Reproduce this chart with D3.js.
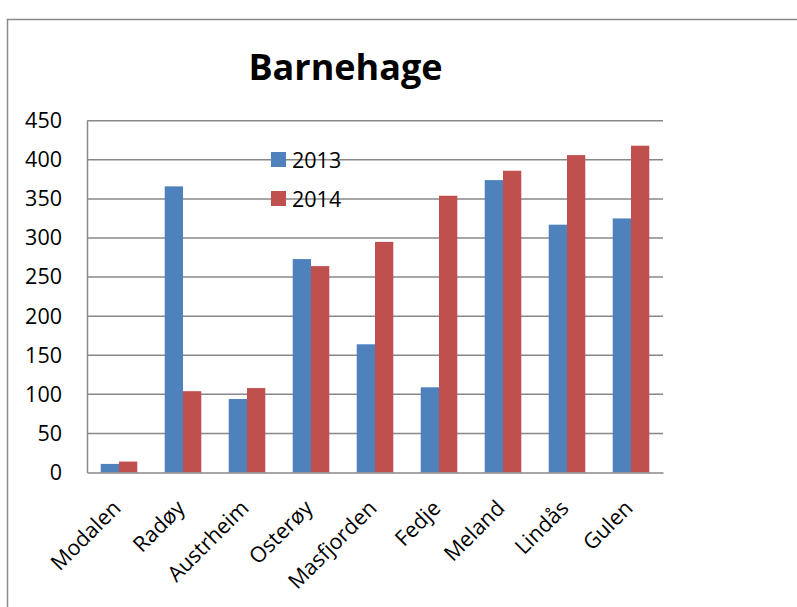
<!DOCTYPE html>
<html>
<head>
<meta charset="utf-8">
<script src="https://cdn.jsdelivr.net/npm/d3@7/dist/d3.min.js"></script>
<style>
  html, body { margin: 0; padding: 0; background: #fff; }
  svg { display: block; }
</style>
</head>
<body>
<svg id="chart" width="797" height="607"></svg>
<script>
// Barnehage per kommune, 2013 og 2014
const categories = ["Modalen", "Radøy", "Austrheim", "Osterøy", "Masfjorden", "Fedje", "Meland", "Lindås", "Gulen"];
const seriesNames = ["2013", "2014"];
const values2013 = [11, 366, 94, 273, 164, 109, 374, 317, 325];
const values2014 = [14, 104, 108, 264, 295, 354, 386, 406, 418];
const yTicks = [0, 50, 100, 150, 200, 250, 300, 350, 400, 450];

const seriesValues = [values2013, values2014];
const colors = ["#4F81BD", "#C0504D"];
const font = "'Open Sans', 'Noto Sans', sans-serif";
const labelSize = 21.5;

const svg = d3.select("#chart");

// outer chart frame (runs off the right and bottom edges)
svg.append("rect")
  .attr("x", 7.5).attr("y", 19.5)
  .attr("width", 900).attr("height", 700)
  .attr("fill", "none")
  .attr("stroke", "#8a8a8a")
  .attr("stroke-width", 1.5);

const plot = { left: 87, right: 663, top: 120.7, bottom: 472.5 };

const x0 = d3.scaleBand().domain(categories).range([plot.left, plot.right]).padding(0);
const x1 = d3.scaleBand().domain(seriesNames).range([0, x0.bandwidth()])
  .paddingInner(0).paddingOuter(0.75);
const y = d3.scaleLinear().domain([0, 450]).range([plot.bottom, plot.top]);

// horizontal gridlines
svg.append("g")
  .selectAll("line")
  .data(yTicks.filter(t => t > 0))
  .join("line")
  .attr("x1", plot.left).attr("x2", plot.right)
  .attr("y1", d => y(d)).attr("y2", d => y(d))
  .attr("stroke", "#888")
  .attr("stroke-width", 1.5);

// y axis
const yAxis = svg.append("g")
  .attr("transform", `translate(${plot.left},0)`)
  .call(d3.axisLeft(y).tickValues(yTicks).tickSize(0).tickPadding(25));
yAxis.select(".domain").attr("stroke", "#888").attr("stroke-width", 1.5);
yAxis.selectAll("text")
  .attr("font-family", font)
  .attr("font-size", labelSize)
  .attr("fill", "#000");

// bars
const groups = svg.append("g")
  .selectAll("g")
  .data(categories)
  .join("g")
  .attr("transform", d => `translate(${x0(d)},0)`);

groups.selectAll("rect")
  .data((d, i) => seriesNames.map((s, j) => ({ s, v: seriesValues[j][i], c: colors[j] })))
  .join("rect")
  .attr("x", d => x1(d.s))
  .attr("y", d => y(d.v))
  .attr("width", x1.bandwidth())
  .attr("height", d => y(0) - y(d.v))
  .attr("fill", d => d.c);

// x axis
const xAxis = svg.append("g")
  .attr("transform", `translate(0,${plot.bottom})`)
  .call(d3.axisBottom(x0).tickSize(0).tickPadding(0));
xAxis.select(".domain").attr("stroke", "#888").attr("stroke-width", 1.5);
xAxis.selectAll(".tick text")
  .attr("font-family", font)
  .attr("font-size", labelSize)
  .attr("fill", "#000")
  .attr("text-anchor", "end")
  .attr("dy", 0)
  .attr("transform", "translate(3,37) rotate(-45)");

// legend
const legend = svg.append("g")
  .selectAll("g")
  .data(seriesNames)
  .join("g")
  .attr("transform", (d, i) => `translate(271,${152 + i * 39})`);
legend.append("rect")
  .attr("width", 15).attr("height", 15)
  .attr("fill", (d, i) => colors[i]);
legend.append("text")
  .attr("x", 21).attr("y", 15.8)
  .attr("font-family", font)
  .attr("font-size", labelSize)
  .attr("fill", "#000")
  .text(d => d);

// title
svg.append("text")
  .attr("x", 345.5).attr("y", 79.5)
  .attr("text-anchor", "middle")
  .attr("font-family", font)
  .attr("font-weight", "bold")
  .attr("font-size", 36)
  .attr("fill", "#000")
  .text("Barnehage");
</script>
</body>
</html>
